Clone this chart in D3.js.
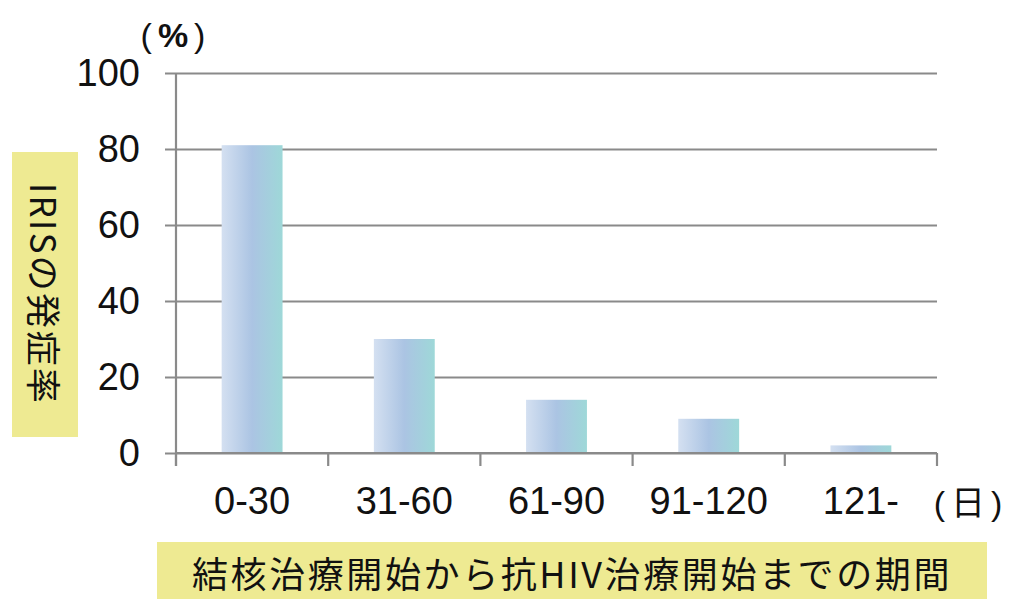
<!DOCTYPE html>
<html>
<head>
<meta charset="utf-8">
<script src="https://cdn.jsdelivr.net/npm/d3@7"></script>
<style>
  body { margin: 0; background: #fff; }
  svg { display: block; }
  text { font-family: "Liberation Sans", Arial, "Noto Sans CJK JP", sans-serif; fill: #111; }
  .jp { font-family: "Noto Sans CJK JP", sans-serif; }
</style>
</head>
<body>
<svg width="1011" height="599"></svg>
<script>
const categories = ["0-30", "31-60", "61-90", "91-120", "121-"];
const rates = [81, 30, 14, 9, 2];
const yTicks = [0, 20, 40, 60, 80, 100];

const svg = d3.select("svg"),
  margin = { top: 73, right: 74, bottom: 146, left: 176 },
  width = +svg.attr("width") - margin.left - margin.right,
  height = +svg.attr("height") - margin.top - margin.bottom;

const x = d3.scaleBand().domain(categories).range([0, width]).paddingInner(0.6).paddingOuter(0.3);
const y = d3.scaleLinear().domain([0, 100]).range([height, 0]);

const defs = svg.append("defs");
const grad = defs.append("linearGradient").attr("id", "barGrad")
  .attr("x1", "0%").attr("x2", "100%").attr("y1", "0%").attr("y2", "0%");
grad.append("stop").attr("offset", "0%").attr("stop-color", "#d4e0f1");
grad.append("stop").attr("offset", "50%").attr("stop-color", "#abc4e3");
grad.append("stop").attr("offset", "100%").attr("stop-color", "#9ed8d8");

const g = svg.append("g").attr("transform", `translate(${margin.left},${margin.top})`);

// gridlines + y axis ticks
const yAxis = g.append("g")
  .call(d3.axisLeft(y).tickValues(yTicks).tickSize(-width).tickPadding(36).tickFormat(d3.format("d")));
yAxis.select(".domain").remove();
yAxis.selectAll(".tick line").attr("x1", -11).attr("stroke", "#8a8a8a").attr("stroke-width", 2.2);
yAxis.selectAll(".tick text").attr("font-size", 38).attr("dy", "0.33em")
  .style("font-family", "Liberation Sans, Arial, sans-serif").style("fill", "#111");

// y axis line
g.append("line").attr("x1", 0).attr("x2", 0).attr("y1", 0).attr("y2", height + 13)
  .attr("stroke", "#8a8a8a").attr("stroke-width", 2.2);

// bars
g.selectAll(".bar").data(rates).enter().append("rect")
  .attr("class", "bar")
  .attr("x", (d, i) => x(categories[i]))
  .attr("width", x.bandwidth())
  .attr("y", d => y(d))
  .attr("height", d => y(0) - y(d))
  .attr("fill", "url(#barGrad)");

// x axis
const bounds = d3.range(categories.length + 1).map(i => i * width / categories.length);
g.append("line").attr("x1", 0).attr("x2", width).attr("y1", height).attr("y2", height)
  .attr("stroke", "#8a8a8a").attr("stroke-width", 2.2);
g.selectAll(".xtick").data(bounds).enter().append("line")
  .attr("x1", d => d).attr("x2", d => d).attr("y1", height).attr("y2", height + 13)
  .attr("stroke", "#8a8a8a").attr("stroke-width", 2.2);
const xc = d3.scalePoint().domain(categories).range([width / 10, width * 9 / 10]);
g.selectAll(".xlabel").data(categories).enter().append("text")
  .attr("x", d => xc(d)).attr("y", height + 61)
  .attr("text-anchor", "middle").attr("font-size", 38)
  .text(d => d);

// units
svg.append("text").attr("x", 971).attr("y", 515)
  .attr("text-anchor", "middle").attr("font-size", 34).attr("letter-spacing", 6).text("(日)");
const pct = svg.append("text").attr("x", 176).attr("y", 47)
  .attr("text-anchor", "middle").attr("font-size", 34).attr("letter-spacing", 6);
pct.append("tspan").text("(");
pct.append("tspan").attr("font-weight", "bold").text("%");
pct.append("tspan").text(")");

// y title box
svg.append("rect").attr("x", 12).attr("y", 152).attr("width", 66).attr("height", 285).attr("fill", "#eeea92");
svg.append("text").attr("class", "jp")
  .attr("transform", "translate(42,294) rotate(90)")
  .attr("text-anchor", "middle").attr("dy", "0.35em").attr("font-size", 35).attr("letter-spacing", 2.3)
  .text("IRISの発症率");

// x title box
svg.append("rect").attr("x", 157).attr("y", 542).attr("width", 830).attr("height", 57).attr("fill", "#eeea92");
svg.append("text").attr("class", "jp")
  .attr("x", 572).attr("y", 575).attr("dy", "0.36em")
  .attr("text-anchor", "middle").attr("font-size", 36).attr("letter-spacing", 2.6)
  .text("結核治療開始から抗HIV治療開始までの期間");
</script>
</body>
</html>
